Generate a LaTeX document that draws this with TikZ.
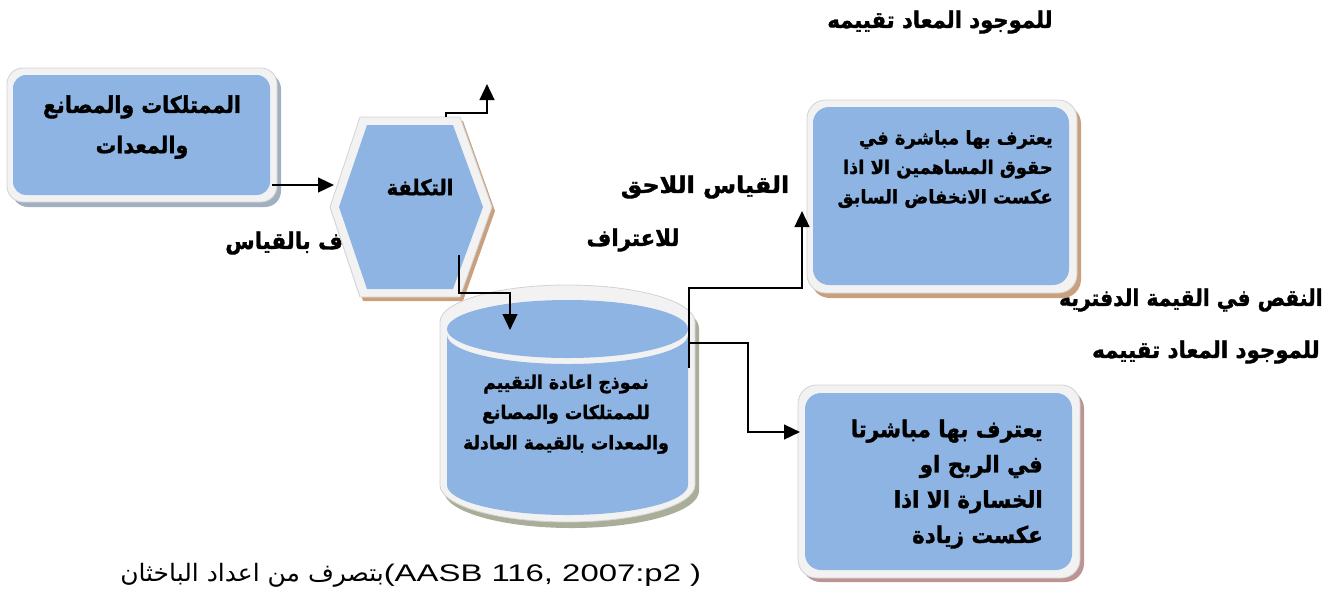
\documentclass[tikz,border=0pt]{standalone}
\usepackage{graphicx}
\usepackage{fontspec}
\setmainfont{Liberation Sans}
\newfontfamily\arabicfont[Script=Arabic, BoldFeatures={FakeBold=1.5}]{DejaVu Sans}
\TeXXeTstate=1
\usetikzlibrary{arrows.meta}
\definecolor{boxblue}{RGB}{141,180,226}
\definecolor{frameC}{RGB}{242,242,242}
\definecolor{frameLine}{RGB}{210,210,210}
\definecolor{shBlue}{RGB}{160,176,192}
\definecolor{shTan}{RGB}{201,160,125}
\definecolor{shRose}{RGB}{188,148,148}
\definecolor{shOlive}{RGB}{168,174,152}
\newcommand{\AR}[1]{\beginR #1\endR}
\newcommand{\sx}[2]{\scalebox{#1}[1.08]{#2}}
\newcommand{\lines}[3]{\fontsize{#1}{#2}\selectfont\begin{tabular}{@{}#3@{}}}
\begin{document}
\begin{tikzpicture}[x=0.75pt,y=-0.75pt,
  frame/.style={fill=frameC, draw=frameLine, line width=0.6pt},
  conn/.style={line width=1.8pt, -{Triangle[length=12pt,width=11pt]}},
  lbl/.style={font=\arabicfont\bfseries\fontsize{16}{19}\selectfont, inner sep=0pt},
  txt/.style={font=\arabicfont\bfseries, inner sep=0pt},
  src/.style={font=\fontsize{18}{21}\selectfont, inner sep=0pt}
]
\useasboundingbox (0,0) rectangle (1331,590);

% free labels (drawn first, shapes cover parts of them)
\node[lbl] (t1) at (940,22) {\sx{0.99}{\AR{للموجود المعاد تقييمه}}};
\node[lbl] (t2) at (705,187) {\sx{1.12}{\AR{القياس اللاحق}}};
\node[lbl] (t3) at (633,240) {\sx{1.0}{\AR{للاعتراف}}};
\node[lbl, anchor=west] (t4) at (225,243) {\sx{1.0}{\AR{للاعتراف بالقياس}}};
\node[lbl, anchor=east] (t5) at (1323,300) {\sx{0.95}{\AR{النقص في القيمة الدفترية}}};
\node[lbl, anchor=east] (t6) at (1320,352) {\sx{1.0}{\AR{للموجود المعاد تقييمه}}};
\node[src, anchor=west] (t7) at (120,575) {\scalebox{1.04}[1]{\arabicfont\AR{بتصرف  من اعداد الباخثان}}\scalebox{1.37}[1]{(AASB 116, 2007:p2 )}};

% box 1
\fill[shBlue, rounded corners=12pt] (12,73) rectangle (281,207);
\filldraw[frame, rounded corners=12pt] (7,68) rectangle (277,202);
\fill[boxblue, rounded corners=10pt] (13,75) rectangle (270,195);
\node[txt] (b1) at (142,125) {\sx{0.965}{\lines{16}{28}{c}\AR{الممتلكات والمصانع}\\\AR{والمعدات}\end{tabular}}};

% hexagon
\fill[shTan] (363,121) -- (463,121) -- (495,211) -- (463,301) -- (363,301) -- (333,211) -- cycle;
\filldraw[frame] (360,117) -- (460,117) -- (492,207) -- (460,297) -- (360,297) -- (330,207) -- cycle;
\fill[boxblue] (367,125) -- (453,125) -- (483,207) -- (453,289) -- (367,289) -- (339,207) -- cycle;
\node[txt, font=\arabicfont\bfseries\fontsize{15}{18}\selectfont] (hex) at (420,187) {\sx{0.97}{\AR{التكلفة}}};

% cylinder
\fill[shOlive] (444,328) arc[start angle=180, end angle=360, x radius=127.5, y radius=37] -- (699,491) arc[start angle=0, end angle=180, x radius=127.5, y radius=37] -- cycle;
\filldraw[frame] (440,322) arc[start angle=180, end angle=360, x radius=127.5, y radius=37] -- (695,485) arc[start angle=0, end angle=180, x radius=127.5, y radius=37] -- cycle;
\fill[boxblue] (447,335) -- (447,485) arc[start angle=180, end angle=0, x radius=120.5, y radius=30] -- (688,335) arc[start angle=0, end angle=180, x radius=120.5, y radius=29] -- cycle;
\fill[boxblue] (567.5,329) ellipse [x radius=120.5, y radius=29];
\node[txt] (cyl) at (566,413) {\sx{1.0}{\lines{13}{21}{c}\AR{نموذج اعادة التقييم}\\\AR{للممتلكات والمصانع}\\\AR{والمعدات بالقيمة العادلة}\end{tabular}}};

% top-right box
\fill[shTan, rounded corners=14pt] (811,105) rectangle (1081,298);
\filldraw[frame, rounded corners=14pt] (807,100) rectangle (1077,293);
\fill[boxblue, rounded corners=12pt] (813,107) rectangle (1069,285);
\node[txt, anchor=east] (tr) at (1053,168) {\sx{1.03}{\lines{13}{20.5}{r}\AR{يعترف بها مباشرة في}\\\AR{حقوق المساهمين الا اذا}\\\AR{عكست الانخفاض السابق}\end{tabular}}};

% bottom-right box
\fill[shRose, rounded corners=14pt] (802,390) rectangle (1084,582);
\filldraw[frame, rounded corners=14pt] (798,385) rectangle (1080,578);
\fill[boxblue, rounded corners=12pt] (805,393) rectangle (1072,570);
\node[txt, anchor=east] (br) at (1043,483) {\sx{1.0}{\lines{16}{24.5}{r}\AR{يعترف بها مباشرتا}\\\AR{في الربح او}\\\AR{الخسارة الا اذا}\\\AR{عكست زيادة}\end{tabular}}};

% connector end points
\coordinate (b1out) at (272,185);
\coordinate (hexin) at (334,185);
\coordinate (hextop) at (446,117);
\coordinate (upend) at (487,84);
\coordinate (hexbot) at (459,255);
\coordinate (cylin) at (510,330);
\coordinate (cylout1) at (689,368);
\coordinate (cylout2) at (689,343);
\coordinate (trin) at (802,211);
\coordinate (brin) at (800,432);

\draw[conn] (b1out) -- (hexin);
\draw[conn] (hextop) -- (446,113) -- (487,113) -- (upend);
\draw[conn] (hexbot) -- (459,293) -- (510,293) -- (cylin);
\draw[conn] (cylout1) -- (689,288) -- (802,288) -- (trin);
\draw[conn] (cylout2) -- (748,343) -- (748,432) -- (brin);
\end{tikzpicture}
\end{document}
